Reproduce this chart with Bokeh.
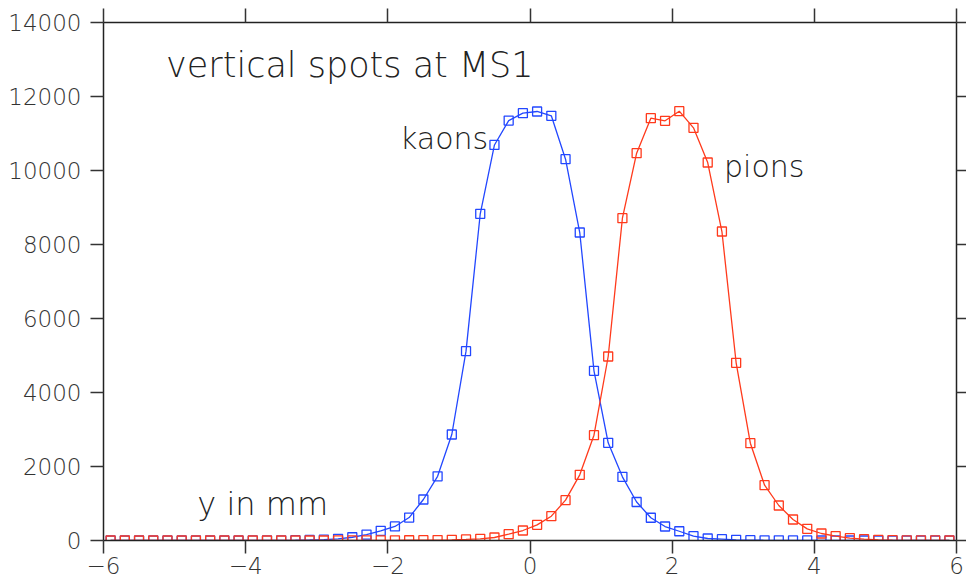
from bokeh.plotting import figure
from bokeh.models import LinearAxis, FixedTicker, Range1d
from bokeh.core.properties import value
from bokeh.embed import file_html
from bokeh.resources import INLINE

# ---- data -------------------------------------------------------------
y_mm = [-5.9, -5.7, -5.5, -5.3, -5.1, -4.9, -4.7, -4.5, -4.3, -4.1,
        -3.9, -3.7, -3.5, -3.3, -3.1, -2.9, -2.7, -2.5, -2.3, -2.1,
        -1.9, -1.7, -1.5, -1.3, -1.1, -0.9, -0.7, -0.5, -0.3, -0.1,
        0.1, 0.3, 0.5, 0.7, 0.9, 1.1, 1.3, 1.5, 1.7, 1.9,
        2.1, 2.3, 2.5, 2.7, 2.9, 3.1, 3.3, 3.5, 3.7, 3.9,
        4.1, 4.3, 4.5, 4.7, 4.9, 5.1, 5.3, 5.5, 5.7, 5.9]

kaons = [0, 0, 0, 0, 0, 0, 0, 0, 0, 0,
         2, 3, 5, 8, 15, 25, 45, 88, 160, 262,
         380, 620, 1108, 1735, 2865, 5117, 8830, 10690, 11350, 11550,
         11595, 11478, 10305, 8324, 4586, 2640, 1721, 1040, 615, 378,
         250, 117, 54, 36, 18, 10, 6, 4, 2, 1,
         0, 0, 0, 0, 0, 0, 0, 0, 0, 0]

pions = [0, 0, 0, 0, 0, 0, 0, 0, 0, 0,
         0, 0, 0, 0, 0, 0, 1, 2, 3, 4,
         5, 7, 9, 12, 18, 28, 45, 81, 171, 270,
         423, 657, 1090, 1775, 2847, 4973, 8711, 10468, 11414, 11343,
         11603, 11154, 10216, 8351, 4803, 2630, 1495, 946, 568, 315,
         189, 117, 63, 36, 15, 8, 4, 2, 1, 0]

x_ticks = [-6, -4, -2, 0, 2, 4, 6]
x_tick_labels = ["\u22126", "\u22124", "\u22122", "0", "2", "4", "6"]
y_ticks = [0, 2000, 4000, 6000, 8000, 10000, 12000, 14000]

title_text = "vertical spots at MS1"
kaon_label = "kaons"
pion_label = "pions"
axis_text = "y in mm"

# ---- figure -----------------------------------------------------------
FONT = "DejaVu Sans Light"
AX_COL = "#222222"

p = figure(width=966, height=584, output_backend="svg", toolbar_location=None,
           x_range=Range1d(-6, 6), y_range=Range1d(0, 14000),
           x_axis_location=None, y_axis_location=None,
           min_border_left=103, min_border_right=10,
           min_border_top=22, min_border_bottom=44)
p.outline_line_color = None
p.xgrid.visible = False
p.ygrid.visible = False
p.background_fill_color = "white"
p.border_fill_color = "white"


def style_axis(ax, ticks, tick_out, labels=True, standoff=3):
    ax.ticker = FixedTicker(ticks=ticks)
    ax.minor_tick_line_color = None
    ax.major_tick_in = 0
    ax.major_tick_out = tick_out
    ax.axis_line_color = AX_COL
    ax.axis_line_width = 1.5
    ax.major_tick_line_color = "#333333"
    ax.major_tick_line_width = 1.5
    if labels:
        ax.major_label_text_font = FONT
        ax.major_label_text_font_size = "23px"
        ax.major_label_text_color = "#333333"
        ax.major_label_standoff = standoff
    else:
        ax.major_label_text_font_size = "1px"
        ax.major_label_text_color = None
        ax.major_label_standoff = 0


xb = LinearAxis()
style_axis(xb, x_ticks, 13, True, 3)
xb.major_label_overrides = {t: lab for t, lab in zip(x_ticks, x_tick_labels)}
p.add_layout(xb, "below")

xt = LinearAxis()
style_axis(xt, x_ticks, 14, False)
p.add_layout(xt, "above")

yl = LinearAxis()
style_axis(yl, y_ticks, 13, True, 9)
p.add_layout(yl, "left")

yr = LinearAxis()
style_axis(yr, y_ticks, 10, False)
p.add_layout(yr, "right")

BLUE = "#2247ff"
RED = "#ff3a1c"

p.line(y_mm, kaons, line_color=BLUE, line_width=1.3)
p.scatter(y_mm, kaons, marker="square", size=9, line_color=BLUE,
          line_width=1.3, fill_alpha=0)
p.line(y_mm, pions, line_color=RED, line_width=1.3)
p.scatter(y_mm, pions, marker="square", size=9, line_color=RED,
          line_width=1.3, fill_alpha=0)

p.text(x=[-5.12], y=[12850], text=[title_text], text_font=value(FONT),
       text_font_size="35px", text_color="#222222",
       text_baseline="alphabetic", text_align="left")
p.text(x=[-1.83], y=[10870], text=[kaon_label], text_font=value(FONT),
       text_font_size="30px", text_color="#222222",
       text_baseline="alphabetic", text_align="left")
p.text(x=[2.73], y=[10100], text=[pion_label], text_font=value(FONT),
       text_font_size="30px", text_color="#222222",
       text_baseline="alphabetic", text_align="left")
p.text(x=[-4.68], y=[980], text=[axis_text], text_font=value(FONT),
       text_font_size="32px", text_color="#222222",
       text_baseline="alphabetic", text_align="left")

open("out.html", "w").write(file_html(p, INLINE))
